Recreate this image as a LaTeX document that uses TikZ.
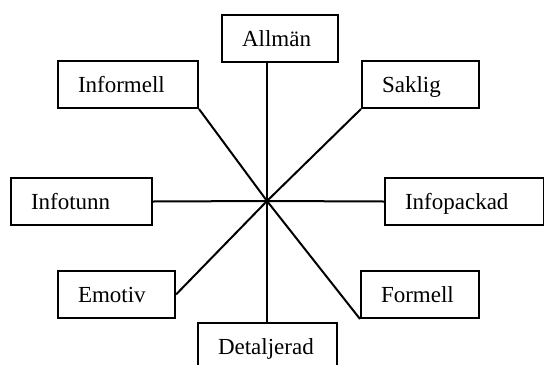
\documentclass[tikz,border=0pt]{standalone}
\usepackage{fontspec}
\setmainfont{Liberation Serif}
\usepackage{tikz}

\begin{document}
\begin{tikzpicture}[x=0.5pt,y=-0.5pt]
\tikzstyle{every node}+=[font=\fontsize{11.5}{13}\selectfont]
\tikzstyle{box}=[draw=black, line width=1pt, anchor=north west, inner xsep=10pt, inner ysep=0pt, minimum height=23.5pt, text height=8pt, text depth=0pt, align=left]
\tikzstyle{spoke}=[black, line width=1pt]
\useasboundingbox (0,0) rectangle (544,364);
\clip (0,0) rectangle (544,364);
\coordinate (hub) at (267,201);
\node [box, text width=38pt] (allman) at (221,14) {Allmän};
\node [box, text width=50pt] (informell) at (57,60) {Informell};
\node [box, text width=38.5pt] (saklig) at (361,60) {Saklig};
\node [box, text width=50.5pt] (infotunn) at (10,177) {Infotunn};
\node [box, text width=59.5pt] (infopackad) at (384,177) {Infopackad};
\node [box, text width=38.5pt] (emotiv) at (57,270) {Emotiv};
\node [box, text width=39pt] (formell) at (360,270) {Formell};
\node [box, text width=49.5pt] (detaljerad) at (197,322) {Detaljerad};
\draw [spoke] (hub) -- (hub |- allman.south);
\draw [spoke] (hub) -- (hub |- detaljerad.north);
\draw [spoke] (hub) -- (informell.south east);
\draw [spoke] (hub) -- (saklig.south west);
\draw [spoke] (hub) -- (infotunn.east);
\draw [spoke] (hub) -- (infopackad.west);
\draw [spoke] (hub) -- (emotiv.east);
\draw [spoke] (hub) -- (formell.south west);
\end{tikzpicture}
\end{document}
